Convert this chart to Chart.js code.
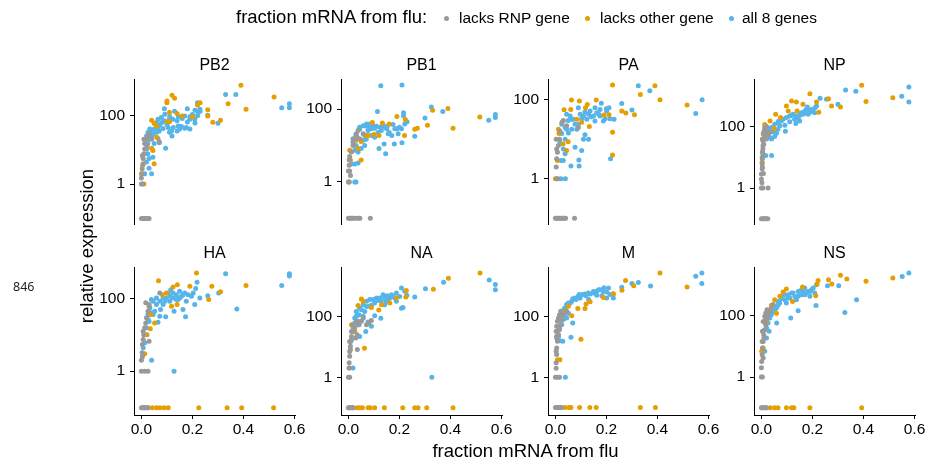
<!DOCTYPE html>
<html><head><meta charset="utf-8">
<script src="https://cdn.jsdelivr.net/npm/chart.js@4.4.0/dist/chart.umd.min.js"></script>
<style>
html,body{margin:0;padding:0;background:#fff;}
body{width:928px;height:464px;position:relative;overflow:hidden;font-family:"Liberation Sans",Arial,Helvetica,sans-serif;color:#000;}
canvas{position:absolute;}
.t{position:absolute;white-space:nowrap;line-height:1;}
.dot{position:absolute;width:5px;height:5px;border-radius:50%;}
</style></head><body>
<script>
// ---------- data ----------
const genes = ['PB2','PB1','PA','NP','HA','NA','M','NS'];
const groups = ['lacks RNP gene','lacks other gene','all 8 genes'];
const xTicks = [0, 0.2, 0.4, 0.6];
const yTicks = [1, 100];
const yMin = [0.066, 0.067, 0.069, 0.064, 0.063, 0.058, 0.057, 0.058];
const yMax = [1130, 675, 335, 3630, 720, 4150, 4340, 3870];

// PB2
const pb2Rnp = [[0,0.1],[0.005,0.1],[0.01,0.1],[0.015,0.1],[0.02,0.1],[0.025,0.1],[0.03,0.1],[0,1],[0.003,2],[0.003,2.8],[0.007,3.9],[0.007,5.5],[0.01,7.6],[0.013,10.5],[0.013,15],[0.02,20],[0.025,25],[0.03,28],[0.04,20],[0.01,20],[0.004,6.8],[0.07,17],[0.022,13],[0,1.5],[0.005,1]];
const pb2Other = [[0.39,740],[0.52,340],[0.34,215],[0.41,150],[0.26,145],[0.23,230],[0.26,95],[0.28,63],[0.31,72],[0.22,200],[0.12,380],[0.13,310],[0.10,230],[0.10,260],[0.04,72],[0.06,49],[0.14,113],[0.10,65],[0.16,95],[0.06,23],[0.045,9.5],[0.05,3.9],[0.005,3.5],[0,2],[0.01,1],[0.005,6.5],[0.04,11],[0.11,65],[0.11,120],[0.2,90],[0.05,58]];
const pb2All = [[0.33,400],[0.37,400],[0.55,165],[0.58,215],[0.58,165],[0.3,59],[0.26,100],[0.22,230],[0.21,140],[0.23,130],[0.18,155],[0.21,60],[0.19,40],[0.17,42],[0.15,40],[0.14,35],[0.125,44],[0.12,25],[0.11,32],[0.10,55],[0.09,69],[0.08,62],[0.07,35],[0.065,44],[0.09,155],[0.13,130],[0.17,95],[0.16,80],[0.19,90],[0.095,11],[0.07,16],[0.04,25],[0.03,20],[0.025,15],[0.02,10.5],[0.025,7.6],[0.03,5.5],[0.03,2.9],[0.04,2],[0.013,2],[0.045,6],[0.02,4.4],[0.06,32],[0.05,40],[0.14,69],[0.145,90],[0.11,77],[0.085,41],[0.105,44],[0.18,64],[0.2,105],[0.22,96],[0.05,15],[0.065,21],
  [0.065,77],[0.078,86],[0.092,107],[0.111,91],[0.124,77],[0.144,49],[0.157,47],[0.176,44],[0.19,77],[0.209,77],[0.222,120],[0.229,150],[0.033,40],[0.039,35],[0.026,32],[0.046,28],[0.02,25],[0.059,62],[0.072,52],[0.118,35]];

// PB1
const pb1Rnp = [[0,0.1],[0.005,0.1],[0.01,0.1],[0.015,0.1],[0.02,0.1],[0.03,0.1],[0.04,0.1],[0.045,0.1],[0.086,0.1],[0,1],[0.005,2],[0.003,2.9],[0.005,5],[0.012,6.7],[0.018,10],[0.025,15.5],[0.03,19],[0.038,26],[0.03,20],[0.018,12.6],[0.044,15.5],[0.058,21],[0.003,4],[0,2],[0.003,1],[0.008,1.5]];
const pb1Other = [[0.39,105],[0.33,94],[0.31,36],[0.41,30],[0.515,61],[0.27,30],[0.26,28],[0.22,19],[0.223,52],[0.19,63],[0.16,39],[0.133,42],[0.12,19],[0.1,20],[0.094,43],[0.077,19],[0.068,19],[0.05,13],[0.03,14],[0.005,7.5],[0.008,4],[0.003,1],[0.038,8.3],[0.05,4]];
const pb1All = [[0.127,440],[0.21,460],[0.114,86],[0.216,80],[0.216,66],[0.23,45],[0.325,115],[0.30,57],[0.37,86],[0.55,50],[0.576,72],[0.576,59],[0.26,18],[0.21,12],[0.18,11],[0.146,6],[0.14,11],[0.12,8.3],[0.17,19],[0.19,29],[0.2,32],[0.16,23],[0.15,29],[0.136,37],[0.123,32],[0.11,34],[0.097,35],[0.084,39],[0.077,26],[0.09,19],[0.07,15],[0.064,10],[0.058,14],[0.05,8.3],[0.038,6.7],[0.03,10],[0.025,7.5],[0.038,3.3],[0.025,3.1],[0.012,3.1],[0.025,1],[0.03,1],[0.044,28],[0.07,34],[0.084,32],[0.038,15.5],[0.175,38],[0.152,34],[0.116,23],[0.103,17],
  [0.044,32],[0.058,35],[0.071,39],[0.09,29],[0.103,30],[0.129,26],[0.142,32],[0.156,21],[0.182,29],[0.195,21],[0.208,29],[0.221,39],[0.031,21],[0.018,15.5],[0.064,19]];

// PA
const paRnp = [[0,0.1],[0.005,0.1],[0.01,0.1],[0.015,0.1],[0.02,0.1],[0.025,0.1],[0.03,0.1],[0.035,0.1],[0.04,0.1],[0.075,0.1],[0.005,1],[0.003,2],[0.005,3.2],[0.008,4.7],[0.012,7],[0.016,10],[0.031,30],[0.026,27],[0.018,16],[0.044,22],[0.09,20],[0.005,5.7],[0.003,10],[0.01,1]];
const paOther = [[0.224,237],[0.39,225],[0.333,135],[0.41,100],[0.516,74],[0.26,52],[0.276,46],[0.31,42],[0.224,15],[0.224,4],[0.063,98],[0.094,93],[0.06,57],[0.034,56],[0.16,98],[0.125,76],[0.118,63],[0.084,32],[0.103,27],[0.133,21],[0.21,42],[0.19,41],[0.012,18],[0.014,14],[0.05,8.7],[0.03,7.6],[0.008,2.9],[0,1],[0.044,5.2]];
const paAll = [[0.325,225],[0.37,170],[0.575,100],[0.55,45],[0.26,80],[0.30,55],[0.216,3.2],[0.23,32],[0.214,33],[0.18,82],[0.2,59],[0.21,63],[0.195,33],[0.17,43],[0.155,29],[0.14,37],[0.13,43],[0.116,49],[0.103,33],[0.09,63],[0.09,24],[0.084,18],[0.077,24],[0.064,32],[0.064,18],[0.05,30],[0.044,18],[0.038,10],[0.025,14],[0.018,8.4],[0.031,5.7],[0.038,4.3],[0.031,2.9],[0.022,2.9],[0.061,2.1],[0.092,3],[0.093,2.1],[0.039,1],[0.022,1],[0.13,10],[0.116,13],[0.11,10],[0.077,6.3],[0.103,5.2],[0.155,63],[0.175,57],
  [0.044,43],[0.058,39],[0.071,32],[0.097,43],[0.11,39],[0.123,32],[0.136,52],[0.149,39],[0.162,47],[0.175,39],[0.188,29],[0.201,52],[0.025,24],[0.038,20],[0.051,14.5]];

// NP
const npRnp = [[0,0.1],[0.005,0.1],[0.01,0.1],[0.015,0.1],[0.02,0.1],[0.025,0.1],[0,1],[0.026,1],[0.006,1],[0,2],[0,2.9],[0.003,4.3],[0.003,6.2],[0.004,9],[0.006,13],[0.006,19],[0.009,27],[0.01,40],[0.013,51],[0.017,74],[0.02,102],[0.013,84],[0.006,35],[0.026,51],[0.033,66],[0.004,4.9],[0.002,1.5],[0.008,3],
  [0.004,40],[0.006,24],[0.009,66],[0.013,95],[0.004,15],[0.003,10]];
const npOther = [[0.393,2250],[0.515,890],[0.41,670],[0.263,820],[0.275,475],[0.31,440],[0.19,1200],[0.225,300],[0.216,640],[0.118,690],[0.137,640],[0.163,540],[0.098,475],[0.105,330],[0.14,330],[0.056,255],[0.075,200],[0.034,155],[0.05,88],[0.013,120],[0.007,58],[0.003,7],[0.013,40]];
const npAll = [[0.578,2000],[0.578,650],[0.55,1000],[0.37,1450],[0.33,1600],[0.23,860],[0.21,420],[0.2,330],[0.216,475],[0.18,440],[0.184,330],[0.176,275],[0.163,255],[0.15,240],[0.15,155],[0.13,175],[0.118,240],[0.111,145],[0.092,113],[0.078,155],[0.072,108],[0.065,84],[0.059,62],[0.052,48],[0.046,69],[0.04,40],[0.033,45],[0.026,62],[0.02,40],[0.017,11.6],[0.04,11.6],[0.094,72],[0.068,155],[0.135,128],[0.19,300],[0.255,790],[0.30,540],[0.144,185],[0.176,370],
  [0.026,84],[0.039,95],[0.052,122],[0.065,138],[0.085,177],[0.098,200],[0.111,225],[0.124,255],[0.137,225],[0.157,290],[0.17,330],[0.183,255],[0.196,370],[0.209,290],[0.033,66]];

// HA
const haRnp = [[0,0.1],[0.005,0.1],[0.01,0.1],[0.015,0.1],[0.02,0.1],[0.026,0.1],[0,1],[0.013,1],[0.026,1],[0,2],[0.003,3.2],[0.004,5.4],[0.007,7.4],[0.009,10],[0.013,15.5],[0.017,21],[0.02,29],[0.026,44],[0.03,60],[0.017,75],[0.03,67],[0.072,140],[0.03,6.6],[0.007,12.5],[0.004,2.5]];
const haOther = [[0.01,0.1],[0.026,0.1],[0.043,0.1],[0.059,0.1],[0.072,0.1],[0.088,0.1],[0.105,0.1],[0.225,0.1],[0.336,0.1],[0.393,0.1],[0.518,0.1],[0.216,495],[0.067,300],[0.141,235],[0.124,205],[0.19,215],[0.276,215],[0.41,225],[0.31,150],[0.264,92],[0.14,67],[0.118,60],[0.037,36],[0.052,21],[0.035,14.5],[0.013,3],[0.098,140],[0.082,125],[0.02,10]];
const haAll = [[0.33,470],[0.58,470],[0.58,410],[0.55,225],[0.374,51],[0.218,275],[0.213,185],[0.26,118],[0.303,140],[0.229,102],[0.209,67],[0.196,113],[0.176,83],[0.17,140],[0.157,113],[0.163,49],[0.173,31],[0.15,155],[0.137,125],[0.128,44],[0.124,102],[0.111,83],[0.105,140],[0.095,31],[0.092,83],[0.085,102],[0.075,49],[0.059,67],[0.052,44],[0.039,92],[0.046,36],[0.03,23],[0.026,36],[0.02,15.5],[0.022,10],[0.013,6],[0.007,4.4],[0.04,2],[0.128,1],[0.072,32],[0.065,22],[0.115,170],[0.144,92],
  [0.046,83],[0.059,102],[0.072,83],[0.085,67],[0.098,102],[0.111,113],[0.124,140],[0.137,92],[0.15,102],[0.163,125],[0.183,125],[0.203,140],[0.033,55],[0.039,40],[0.026,26]];

// NA
const naRnp = [[0,0.1],[0.005,0.1],[0.01,0.1],[0.014,0.1],[0.018,0.1],[0,1],[0.005,1],[0.003,2],[0.003,3],[0.005,4.9],[0.005,7],[0.008,10.4],[0.009,15],[0.012,22],[0.018,32],[0.025,42],[0.029,19.5],[0.034,25],[0.042,53],[0.051,69],[0.058,87],[0.071,53],[0.08,60],[0.09,73],[0.035,8.1],
  [0.005,15],[0.012,32],[0.018,53],[0.031,69],[0.008,8.1]];
const naOther = [[0.003,0.1],[0.018,0.1],[0.034,0.1],[0.044,0.1],[0.055,0.1],[0.077,0.1],[0.086,0.1],[0.103,0.1],[0.141,0.1],[0.213,0.1],[0.26,0.1],[0.273,0.1],[0.307,0.1],[0.41,0.1],[0.516,2650],[0.392,1780],[0.333,780],[0.227,710],[0.225,430],[0.188,400],[0.051,370],[0.058,310],[0.038,225],[0.119,160],[0.09,195],[0.13,240],[0.063,9],[0.012,53],[0.003,2],[0.025,32],[0.162,275]];
const naAll = [[0.552,1560],[0.576,1100],[0.576,745],[0.373,1300],[0.302,800],[0.26,430],[0.229,490],[0.208,850],[0.221,660],[0.214,195],[0.208,185],[0.188,580],[0.175,450],[0.162,400],[0.149,310],[0.142,240],[0.136,510],[0.123,400],[0.116,330],[0.103,275],[0.09,230],[0.084,355],[0.071,210],[0.064,145],[0.058,100],[0.051,165],[0.042,110],[0.031,100],[0.038,69],[0.025,60],[0.018,42],[0.044,22],[0.068,32],[0.09,47],[0.077,65],[0.127,86],[0.103,105],[0.018,2],[0.327,1],[0.012,17],[0.152,470],[0.188,310],
  [0.031,145],[0.044,188],[0.058,240],[0.071,310],[0.084,215],[0.097,355],[0.11,400],[0.129,310],[0.142,400],[0.156,355],[0.169,510],[0.182,400],[0.201,450],[0.025,88],[0.038,53]];

// M
const mRnp = [[0,0.1],[0.005,0.1],[0.01,0.1],[0.015,0.1],[0.02,0.1],[0.025,0.1],[0,1],[0.008,1],[0.016,1],[0.003,2],[0.003,3],[0.005,5.6],[0.005,9.2],[0.008,15.4],[0.012,26],[0.016,37],[0.021,55],[0.026,80],[0.034,116],[0.044,150],[0.005,22.5],[0.005,48],[0.003,7.2],
  [0.008,70],[0.012,90],[0.016,116],[0.021,150],[0.003,33],[0.005,20]];
const mOther = [[0.005,0.1],[0.018,0.1],[0.038,0.1],[0.054,0.1],[0.061,0.1],[0.095,0.1],[0.135,0.1],[0.16,0.1],[0.333,0.1],[0.392,0.1],[0.41,2750],[0.275,1570],[0.307,1050],[0.516,950],[0.261,740],[0.188,430],[0.227,570],[0.12,260],[0.088,185],[0.116,185],[0.051,220],[0.064,108],[0.1,18],[0.008,3.8],[0.018,3.8],[0.038,150],[0.136,310]];
const mAll = [[0.574,2750],[0.55,2140],[0.574,1250],[0.373,1030],[0.325,1350],[0.3,1250],[0.26,925],[0.227,410],[0.214,535],[0.201,650],[0.19,890],[0.175,775],[0.162,690],[0.149,600],[0.136,560],[0.12,490],[0.11,535],[0.097,410],[0.093,535],[0.081,365],[0.068,390],[0.058,280],[0.044,250],[0.035,185],[0.029,130],[0.018,80],[0.016,42],[0.025,55],[0.012,22],[0.018,16],[0.039,1],[0.061,20.8],[0.068,62],[0.044,90],[0.162,510],[0.182,490],[0.201,410],[0.13,365],[0.029,15.4],[0.051,130],
  [0.025,116],[0.038,193],[0.051,280],[0.064,320],[0.077,410],[0.09,470],[0.103,530],[0.116,560],[0.129,600],[0.149,680],[0.169,775],[0.188,680],[0.208,880],[0.227,560],[0.031,80]];

// NS
const nsRnp = [[0,0.1],[0.005,0.1],[0.01,0.1],[0.015,0.1],[0.02,0.1],[0,1],[0.004,1],[0,2],[0.001,3.2],[0.003,5.3],[0.004,8.8],[0.007,14.5],[0.009,24],[0.013,35],[0.017,51],[0.02,74],[0.026,95],[0.033,131],[0.039,178],[0.046,230],[0.01,18.7],[0.007,4.2],
  [0.007,65],[0.013,95],[0.017,122],[0.022,156],[0.004,31],[0.003,14.5]];
const nsOther = [[0.003,0.1],[0.02,0.1],[0.035,0.1],[0.052,0.1],[0.065,0.1],[0.098,0.1],[0.118,0.1],[0.127,0.1],[0.19,0.1],[0.393,0.1],[0.31,2100],[0.263,1490],[0.335,1560],[0.515,1700],[0.41,1320],[0.222,1400],[0.276,1090],[0.218,1060],[0.213,450],[0.161,860],[0.098,740],[0.085,590],[0.072,430],[0.052,330],[0.039,220],[0.059,120],[0.033,156],[0.017,58],[0.007,31],[0.007,8.8],[0.001,6.9],[0.122,290]];
const nsAll = [[0.578,2450],[0.552,1900],[0.303,950],[0.259,950],[0.373,330],[0.327,128],[0.216,1020],[0.203,800],[0.19,620],[0.176,550],[0.163,620],[0.17,800],[0.157,480],[0.144,430],[0.137,330],[0.124,550],[0.111,375],[0.105,480],[0.098,260],[0.092,330],[0.078,360],[0.072,260],[0.065,220],[0.059,178],[0.052,138],[0.046,200],[0.039,108],[0.033,84],[0.026,58],[0.02,40],[0.03,31],[0.02,18.7],[0.013,6.9],[0.115,84],[0.06,58],[0.214,215],[0.144,145],[0.19,430],
  [0.026,84],[0.039,138],[0.052,200],[0.065,290],[0.078,425],[0.092,480],[0.105,375],[0.118,550],[0.131,425],[0.144,620],[0.157,700],[0.17,480],[0.183,620],[0.196,700],[0.209,550]];

const seriesByGene = [
  [pb2Rnp, pb2Other, pb2All],
  [pb1Rnp, pb1Other, pb1All],
  [paRnp, paOther, paAll],
  [npRnp, npOther, npAll],
  [haRnp, haOther, haAll],
  [naRnp, naOther, naAll],
  [mRnp, mOther, mAll],
  [nsRnp, nsOther, nsAll]
];

// ---------- layout / style ----------
const colors = ['#999999', '#E69F00', '#56B4E9'];
const FONT = '"Liberation Sans", Arial, Helvetica, sans-serif';
const colLeft = [134, 341, 548, 754];
const rowTop = [79, 267];
const PW = 161, PH = 148, AXW = 50, TOPPAD = 30, RIGHTPAD = 16, XAXH = 30;

function addText(txt, x, y, size, extra) {
  const d = document.createElement('div');
  d.className = 't';
  d.textContent = txt;
  d.style.left = x + 'px';
  d.style.top = y + 'px';
  d.style.fontSize = size + 'px';
  d.style.transform = 'translate(-50%,-50%)' + (extra || '');
  document.body.appendChild(d);
  return d;
}

genes.forEach((g, i) => {
  const col = i % 4, row = Math.floor(i / 4);
  const bottomRow = row === 1;
  const cv = document.createElement('canvas');
  const w = AXW + PW + RIGHTPAD;
  const h = TOPPAD + PH + (bottomRow ? XAXH : 12);
  cv.width = w; cv.height = h;
  cv.style.width = w + 'px'; cv.style.height = h + 'px';
  cv.style.left = (colLeft[col] - AXW) + 'px';
  cv.style.top = (rowTop[row] - TOPPAD) + 'px';
  document.body.appendChild(cv);

  const datasets = seriesByGene[i].map((s, k) => ({
    label: groups[k],
    data: s.map(p => ({x: p[0], y: p[1]})),
    backgroundColor: colors[k],
    borderWidth: 0,
    pointRadius: 2.5,
    pointHoverRadius: 2.5,
    clip: false
  }));

  const tickFont = {family: FONT, size: 15.5};
  new Chart(cv, {
    type: 'scatter',
    data: {datasets},
    options: {
      responsive: false,
      animation: false,
      devicePixelRatio: 1,
      events: [],
      layout: {padding: {top: TOPPAD, right: RIGHTPAD, bottom: bottomRow ? 0 : 12, left: 0}},
      plugins: {legend: {display: false}, tooltip: {enabled: false}, title: {display: false}},
      scales: {
        x: {
          type: 'linear', min: -0.029, max: 0.602, bounds: 'data',
          display: bottomRow,
          afterFit: s => { s.height = bottomRow ? XAXH : 0; },
          afterBuildTicks: s => { s.ticks = xTicks.map(v => ({value: v})); },
          ticks: {callback: v => Number(v).toFixed(1), font: tickFont, color: '#000', padding: 1, maxRotation: 0, autoSkip: false},
          grid: {display: true, drawOnChartArea: false, drawTicks: true, tickLength: 4, color: '#000', lineWidth: 1},
          border: {display: true, color: '#000', width: 1}
        },
        y: {
          type: 'logarithmic', min: yMin[i], max: yMax[i], bounds: 'data',
          afterFit: s => { s.width = AXW; },
          afterBuildTicks: s => { s.ticks = yTicks.map(v => ({value: v})); },
          ticks: {callback: v => String(v), font: tickFont, color: '#000', padding: 5, autoSkip: false},
          grid: {display: true, drawOnChartArea: false, drawTicks: true, tickLength: 4, color: '#000', lineWidth: 1},
          border: {display: true, color: '#000', width: 1}
        }
      }
    }
  });

  addText(g, colLeft[col] + PW / 2, rowTop[row] - 14, 16);
});

// axis titles
addText('relative expression', 87, 246, 18.5, ' rotate(-90deg)');
addText('fraction mRNA from flu', 525.5, 451, 18.5);

// legend
const lt = addText('fraction mRNA from flu:', 0, 17, 18.5);
lt.style.transform = 'translateY(-50%)';
lt.style.left = '236px';
const dotX = [446, 587.5, 731];
const labX = [459, 600, 742];
groups.forEach((gname, k) => {
  const d = document.createElement('div');
  d.className = 'dot';
  d.style.background = colors[k];
  d.style.left = (dotX[k] - 2.5) + 'px';
  d.style.top = (18 - 2.5) + 'px';
  document.body.appendChild(d);
  const l = addText(gname, 0, 18, 15.5);
  l.style.transform = 'translateY(-50%)';
  l.style.left = labX[k] + 'px';
});

// stray label
const s = addText('846', 0, 287, 12.5);
s.style.transform = 'translateY(-50%)';
s.style.left = '13px';
s.style.fontFamily = '"Noto Sans", sans-serif';
s.style.color = '#222';
</script>
</body></html>
